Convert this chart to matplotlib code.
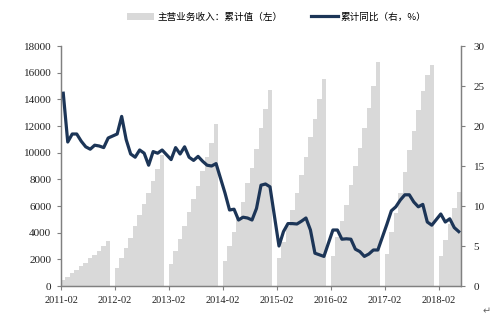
import numpy as np
import pandas as pd
import matplotlib
matplotlib.use("Agg")
import matplotlib.pyplot as plt

# Monthly categories (January is not reported separately)
months = pd.period_range("2011-02", "2018-06", freq="M")

# Main business revenue, cumulative value (left axis), Feb..Dec of each year
rev_2011 = [450, 700, 980, 1200, 1500, 1750, 2070, 2350, 2650, 2970, 3340]
rev_2012 = [1370, 2120, 2870, 3570, 4500, 5330, 6130, 7000, 7870, 8770, 9830]
rev_2013 = [1640, 2590, 3530, 4500, 5520, 6520, 7520, 8600, 9700, 10750, 12130]
rev_2014 = [1870, 3000, 4080, 5080, 6330, 7700, 8830, 10250, 11880, 13250, 14700]
rev_2015 = [2080, 3280, 4500, 5700, 6950, 8330, 9700, 11150, 12550, 14000, 15520]
rev_2016 = [2230, 3700, 4870, 6080, 7600, 8980, 10380, 11860, 13360, 15000, 16780]
rev_2017 = [2420, 4050, 5450, 7000, 8580, 10200, 11650, 13200, 14650, 15830, 16600]
rev_2018 = [2230, 3450, 4650, 5850, 7030]

# Cumulative year-on-year growth (right axis, %), Feb..Dec of each year
yoy_2011 = [24.1, 18.0, 19.0, 19.0, 18.1, 17.4, 17.1, 17.6, 17.5, 17.3, 18.5]
yoy_2012 = [19.0, 21.2, 18.3, 16.5, 16.1, 17.0, 16.6, 15.1, 16.8, 16.6, 17.0]
yoy_2013 = [15.8, 17.3, 16.5, 17.4, 16.1, 15.7, 16.2, 15.6, 15.1, 15.0, 15.3]
yoy_2014 = [11.6, 9.5, 9.6, 8.25, 8.6, 8.5, 8.25, 9.7, 12.6, 12.75, 12.4]
yoy_2015 = [5.0, 6.8, 7.8, 7.8, 7.75, 8.1, 8.5, 7.0, 4.1, 3.9, 3.7]
yoy_2016 = [7.0, 7.0, 5.85, 5.9, 5.85, 4.6, 4.3, 3.7, 4.0, 4.5, 4.5]
yoy_2017 = [7.7, 9.4, 9.9, 10.75, 11.4, 11.4, 10.5, 9.9, 10.2, 8.0, 7.6]
yoy_2018 = [9.0, 8.0, 8.4, 7.3, 6.8]

bar_label = "主营业务收入：累计值（左）"
line_label = "累计同比（右，%）"


def with_gaps(*years):
    """Join yearly Feb..Dec lists, leaving January empty between years."""
    out = []
    for k, y in enumerate(years):
        if k > 0:
            out.append(np.nan)
        out.extend(y)
    return np.array(out, dtype=float)


revenue = with_gaps(rev_2011, rev_2012, rev_2013, rev_2014,
                    rev_2015, rev_2016, rev_2017, rev_2018)
yoy = with_gaps(yoy_2011, yoy_2012, yoy_2013, yoy_2014,
                yoy_2015, yoy_2016, yoy_2017, yoy_2018)

x = np.arange(len(months))

plt.rcParams["font.family"] = ["Liberation Serif", "DejaVu Serif"]

fig = plt.figure(figsize=(4.98, 3.26), dpi=100)
ax = fig.add_axes([61 / 498, 40 / 326, 400 / 498, 240 / 326])
ax2 = ax.twinx()

bar_color = "#d9d9d9"
line_color = "#1c3557"
spine_color = "#808080"

ok = np.isfinite(revenue)
ax.bar(x[ok], revenue[ok], width=1.0, color=bar_color, linewidth=0,
       label=bar_label)

okl = np.isfinite(yoy)
ax2.plot(x[okl], yoy[okl], color=line_color, lw=2.3,
         solid_joinstyle="round", label=line_label)

ax.set_xlim(-0.5, len(months) - 0.5)
ax.set_ylim(0, 18000)
ax2.set_ylim(0, 30)
ax.set_yticks(np.arange(0, 18001, 2000))
ax2.set_yticks(np.arange(0, 31, 5))

feb_idx = [i for i, m in enumerate(months) if m.month == 2]
ax.set_xticks(np.array(feb_idx) - 0.5)
ax.set_xticklabels([str(months[i]) for i in feb_idx])

for a in (ax, ax2):
    a.spines["top"].set_visible(False)
    for s in ("left", "right", "bottom"):
        a.spines[s].set_color(spine_color)
        a.spines[s].set_linewidth(0.9)
    a.tick_params(colors="#222222", labelsize=8, length=3, width=0.8,
                  color=spine_color)
ax.tick_params(axis="x", labelsize=7.5, pad=4)
ax.tick_params(axis="y", pad=4)
ax2.tick_params(axis="y", pad=6)

cjk = ["Noto Sans CJK SC", "DejaVu Sans"]
handles = ax.get_legend_handles_labels()[0] + ax2.get_legend_handles_labels()[0]
labels = [bar_label, line_label]
fig.legend(handles, labels, loc="center", bbox_to_anchor=(277 / 498, 1 - 17 / 326),
           ncol=2, frameon=False, prop={"family": cjk, "size": 6.9},
           handlelength=2.8, handleheight=0.8, handletextpad=0.3,
           columnspacing=3.0)

fig.text(487 / 498, 1 - 311 / 326, "↵", fontsize=7, color="#666666",
         family="DejaVu Sans", ha="center", va="center")

fig.savefig("out.png", dpi=100, facecolor="white")
